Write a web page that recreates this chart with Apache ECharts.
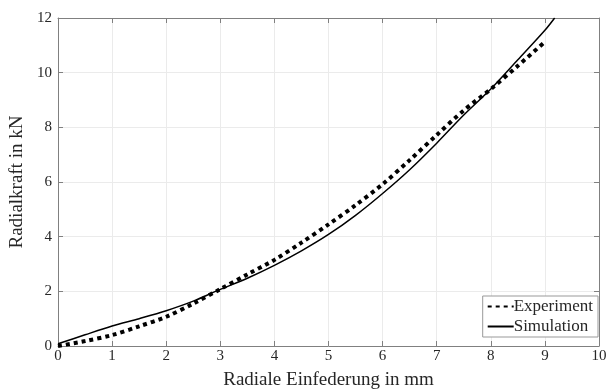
<!DOCTYPE html>
<html>
<head>
<meta charset="utf-8">
<script src="https://cdn.jsdelivr.net/npm/echarts@6/dist/echarts.min.js"></script>
<style>
  html, body { margin: 0; padding: 0; background: #fff; }
  #chart { width: 616px; height: 392px; }
</style>
</head>
<body>
<div id="chart"></div>
<script>
// Radiale Einfederung (mm) vs. Radialkraft (kN)
const expX = [0, 0.5, 1, 1.5, 2, 2.5, 3, 3.5, 4, 4.5, 5, 5.5, 6, 6.5, 7, 7.5, 8, 8.5, 9];
const expY = [0, 0.18, 0.40, 0.72, 1.07, 1.55, 2.08, 2.62, 3.15, 3.78, 4.45, 5.15, 5.92, 6.80, 7.72, 8.62, 9.40, 10.25, 11.13];

const simX = [0, 0.5, 1, 1.5, 2, 2.5, 3, 3.5, 4, 4.5, 5, 5.5, 6, 6.5, 7, 7.5, 8, 8.5, 9, 9.18];
const simY = [0.08, 0.41, 0.73, 1.00, 1.29, 1.64, 2.07, 2.48, 2.95, 3.48, 4.08, 4.78, 5.58, 6.45, 7.42, 8.45, 9.40, 10.47, 11.55, 12.0];

const xTicks = [0, 1, 2, 3, 4, 5, 6, 7, 8, 9, 10];
const yTicks = [0, 2, 4, 6, 8, 10, 12];

const FONT = "Liberation Serif";
const AXIS_COLOR = "#808080";
const TEXT_COLOR = "#262626";

const chart = echarts.init(document.getElementById("chart"), null, { renderer: "canvas" });

const baseAxis = {
  type: "value",
  axisLine: { show: true, onZero: false, lineStyle: { color: AXIS_COLOR, width: 1 } },
  axisTick: { show: true, inside: true, length: 5, lineStyle: { color: AXIS_COLOR } },
  splitLine: { show: false },
};

const option = {
  backgroundColor: "#fff",
  animation: false,
  textStyle: { fontFamily: FONT },
  grid: { left: 58, right: 17, top: 18, bottom: 46, containLabel: false, outerBoundsMode: "none" },
  legend: {
    data: ["Experiment", "Simulation"],
    orient: "vertical",
    right: 18,
    bottom: 55,
    itemWidth: 26,
    itemHeight: 10,
    itemGap: 3,
    padding: [2, 5, 2, 4],
    backgroundColor: "#fff",
    borderColor: "#999",
    borderWidth: 1,
    borderRadius: 0,
    itemStyle: { color: "transparent", borderWidth: 0, opacity: 0 },
    textStyle: { fontFamily: FONT, fontSize: 17, color: TEXT_COLOR, padding: [0, 0, 0, -5] },
  },
  xAxis: [
    Object.assign({}, baseAxis, {
      min: xTicks[0],
      max: xTicks[xTicks.length - 1],
      interval: 1,
      position: "bottom",
      name: "Radiale Einfederung in mm",
      nameLocation: "middle",
      nameGap: 25,
      nameTextStyle: { fontFamily: FONT, fontSize: 19, color: TEXT_COLOR },
      axisLabel: { margin: 3, fontFamily: FONT, fontSize: 15, color: TEXT_COLOR },
      splitLine: { show: true, lineStyle: { color: "#ebebeb", width: 1 } },
    }),
    Object.assign({}, baseAxis, {
      min: xTicks[0],
      max: xTicks[xTicks.length - 1],
      interval: 1,
      position: "top",
      axisLabel: { show: false },
    }),
  ],
  yAxis: [
    Object.assign({}, baseAxis, {
      min: yTicks[0],
      max: yTicks[yTicks.length - 1],
      interval: 2,
      position: "left",
      name: "Radialkraft in kN",
      nameLocation: "middle",
      nameGap: 30,
      nameRotate: 90,
      nameTextStyle: { fontFamily: FONT, fontSize: 19, color: TEXT_COLOR },
      axisLabel: { margin: 6, fontFamily: FONT, fontSize: 15, color: TEXT_COLOR },
      splitLine: { show: true, lineStyle: { color: "#ebebeb", width: 1 } },
    }),
    Object.assign({}, baseAxis, {
      min: yTicks[0],
      max: yTicks[yTicks.length - 1],
      interval: 2,
      position: "right",
      axisLabel: { show: false },
    }),
  ],
  series: [
    {
      name: "Experiment",
      type: "line",
      data: expX.map((x, i) => [x, expY[i]]),
      symbol: "none",
      smooth: 0.3,
      clip: true,
      lineStyle: { color: "#000", width: 4, type: [4, 4], cap: "butt" },
      itemStyle: { color: "#000" },
      z: 3,
    },
    {
      name: "Simulation",
      type: "line",
      data: simX.map((x, i) => [x, simY[i]]),
      symbol: "none",
      smooth: 0.3,
      clip: true,
      lineStyle: { color: "#000", width: 1.5 },
      itemStyle: { color: "#000" },
      z: 4,
    },
  ],
};

chart.setOption(option);
</script>
</body>
</html>
